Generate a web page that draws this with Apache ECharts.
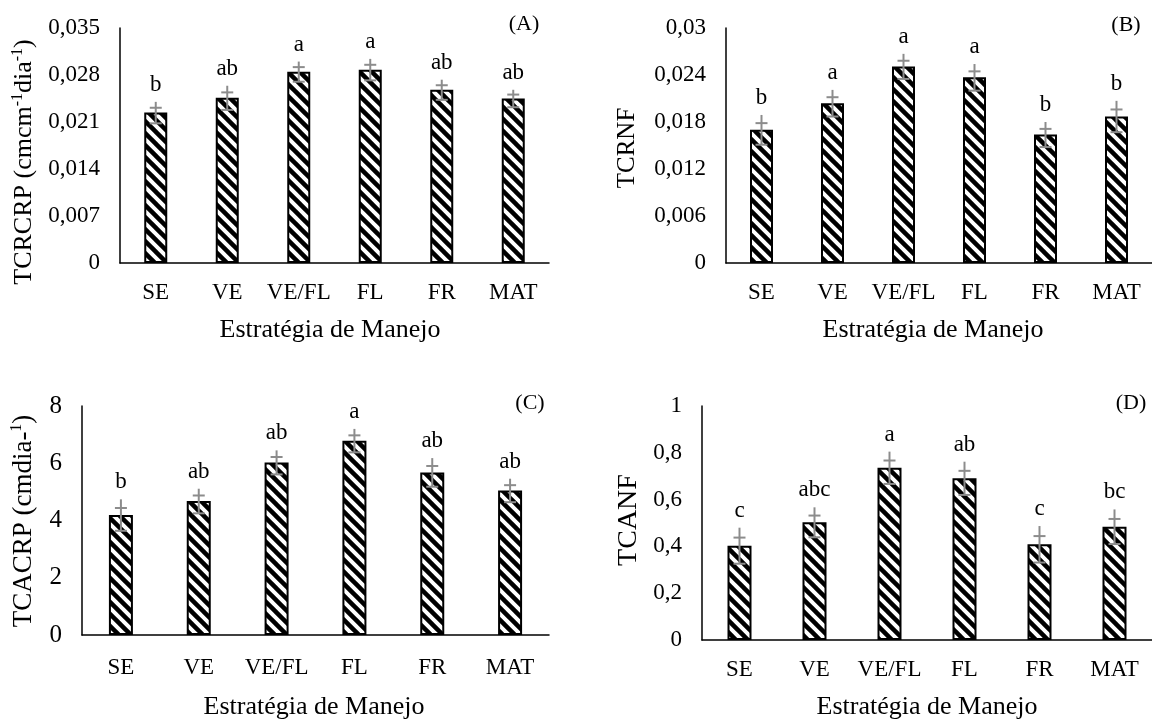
<!DOCTYPE html>
<html><head><meta charset="utf-8">
<script src="https://cdn.jsdelivr.net/npm/echarts@6/dist/echarts.min.js"></script>
<style>html,body{margin:0;padding:0;background:#fff}#c{width:1152px;height:720px}</style>
</head><body><div id="c"></div>
<script>
const categories = ['SE','VE','VE/FL','FL','FR','MAT'];

const valuesA  = [0.0224, 0.0246, 0.0285, 0.0288, 0.0258, 0.0245];
const errorsA  = [0.0016, 0.0018, 0.0015, 0.0016, 0.0015, 0.0013];
const lettersA = ['b','ab','a','a','ab','ab'];
const ticksA   = ['0','0,007','0,014','0,021','0,028','0,035'];

const valuesB  = [0.0170, 0.0204, 0.0251, 0.0237, 0.0164, 0.0187];
const errorsB  = [0.0019, 0.0017, 0.0016, 0.0017, 0.0016, 0.0020];
const lettersB = ['b','a','a','a','b','b'];
const ticksB   = ['0','0,006','0,012','0,018','0,024','0,03'];

const valuesC  = [4.19, 4.68, 6.03, 6.79, 5.68, 5.05];
const errorsC  = [0.55, 0.43, 0.42, 0.41, 0.50, 0.41];
const lettersC = ['b','ab','ab','a','ab','ab'];
const ticksC   = ['0','2','4','6','8'];

const valuesD  = [0.403, 0.503, 0.736, 0.691, 0.409, 0.484];
const errorsD  = [0.077, 0.064, 0.069, 0.071, 0.078, 0.074];
const lettersD = ['c','abc','a','ab','c','bc'];
const ticksD   = ['0','0,2','0,4','0,6','0,8','1'];

const FF = '"Liberation Serif","Times New Roman",serif';

function stripes(){
  const c = document.createElement('canvas'); c.width = 12; c.height = 12;
  const g = c.getContext('2d');
  g.fillStyle = '#fff'; g.fillRect(0,0,12,12);
  g.strokeStyle = '#000'; g.lineWidth = 4.5;
  for (const x0 of [-12, 0, 12]) { g.beginPath(); g.moveTo(x0-3,-3); g.lineTo(x0+15,15); g.stroke(); }
  return c;
}
const pat = {image: stripes(), repeat: 'repeat'};

const panels = [
  {v: valuesA, e: errorsA, l: lettersA, t: ticksA, max: 0.035, iv: 0.007, grid: {left:120, top:28, width:429, height:235}, bw: 23, lm: 18, fs: 23},
  {v: valuesB, e: errorsB, l: lettersB, t: ticksB, max: 0.03, iv: 0.006, grid: {left:726, top:28, width:429, height:235}, bw: 23, lm: 18, fs: 23},
  {v: valuesC, e: errorsC, l: lettersC, t: ticksC, max: 8, iv: 2, grid: {left:82, top:406, width:467, height:229}, bw: 24, lm: 21, fs: 25},
  {v: valuesD, e: errorsD, l: lettersD, t: ticksD, max: 1, iv: 0.2, grid: {left:702, top:406, width:452, height:234}, bw: 24, lm: 18, fs: 23}
];

const grid = [], xAxis = [], yAxis = [], series = [];
panels.forEach((p, i) => {
  grid.push(p.grid);
  xAxis.push({type:'category', gridIndex:i, data:categories,
    axisLine:{lineStyle:{color:'#000', width:1.5}}, axisTick:{show:false},
    axisLabel:{color:'#000', fontFamily:FF, fontSize:23, margin:p.lm, interval:0}});
  yAxis.push({type:'value', gridIndex:i, min:0, max:p.max, interval:p.iv,
    axisLine:{show:true, lineStyle:{color:'#000', width:1.5}}, axisTick:{show:false}, splitLine:{show:false},
    axisLabel:{color:'#000', fontFamily:FF, fontSize:p.fs, margin:20,
      formatter: (val) => p.t[Math.round(val / p.iv)]}});
  series.push({type:'bar', xAxisIndex:i, yAxisIndex:i, data:p.v, barWidth:p.bw, silent:true,
    itemStyle:{color:pat, borderColor:'#000', borderWidth:2}});
  series.push({type:'custom', xAxisIndex:i, yAxisIndex:i, z:5, silent:true,
    encode:{x:0, y:1},
    data: p.v.map((v, j) => [j, v, p.e[j]]),
    renderItem: (params, api) => {
      const j = api.value(0), v = api.value(1), e = api.value(2);
      const top = api.coord([j, v + e]);
      const bot = api.coord([j, v - e]);
      const mid = api.coord([j, v + 0.45 * e]);
      const hw = 6;
      const ls = {stroke:'#8c8c8c', lineWidth:2};
      return {type:'group', children:[
        {type:'line', shape:{x1:top[0], y1:top[1], x2:bot[0], y2:bot[1]}, style:ls},
        {type:'line', shape:{x1:mid[0]-hw, y1:mid[1], x2:mid[0]+hw, y2:mid[1]}, style:ls},
        {type:'line', shape:{x1:bot[0]-hw, y1:bot[1], x2:bot[0]+hw, y2:bot[1]}, style:ls},
        {type:'text', style:{text:p.l[params.dataIndex], x:top[0], y:top[1]-17,
          align:'center', verticalAlign:'middle', fill:'#000', font:'23px ' + FF}}
      ]};
    }});
});

function txt(x, y, s, size, rot, rich) {
  const o = {type:'text', x:x, y:y, rotation: rot || 0, silent:true,
    style:{text:s, align:'center', verticalAlign:'middle', fill:'#000', font: size + 'px ' + FF}};
  if (rich) o.style.rich = rich;
  return o;
}
function supRich(size) {
  return {
    a:{fontSize:size, fontFamily:FF, fill:'#000', lineHeight:size + 5},
    s:{fontSize:Math.round(size * 0.6), fontFamily:FF, fill:'#000', lineHeight:size + 5, padding:[0,0,Math.round(size*0.5),0]}
  };
}

const graphic = [
  txt(24, 162, '{a|TCRCRP (cmcm}{s|-1}{a|dia}{s|-1}{a|)}', 26, Math.PI/2, supRich(26)),
  txt(627, 148, 'TCRNF', 25, Math.PI/2),
  txt(24, 521, '{a|TCACRP (cmdia-}{s|1}{a|)}', 27, Math.PI/2, supRich(27)),
  txt(629, 520, 'TCANF', 28, Math.PI/2),
  txt(330, 330, 'Estratégia de Manejo', 26),
  txt(933, 330, 'Estratégia de Manejo', 26),
  txt(314, 707, 'Estratégia de Manejo', 26),
  txt(927, 707, 'Estratégia de Manejo', 26),
  txt(524, 24, '(A)', 22),
  txt(1126, 25, '(B)', 22),
  txt(530, 403, '(C)', 22),
  txt(1131, 403, '(D)', 22)
];

const chart = echarts.init(document.getElementById('c'), null, {renderer:'canvas'});
chart.setOption({backgroundColor:'#fff', animation:false, grid, xAxis, yAxis, series, graphic});
</script></body></html>
